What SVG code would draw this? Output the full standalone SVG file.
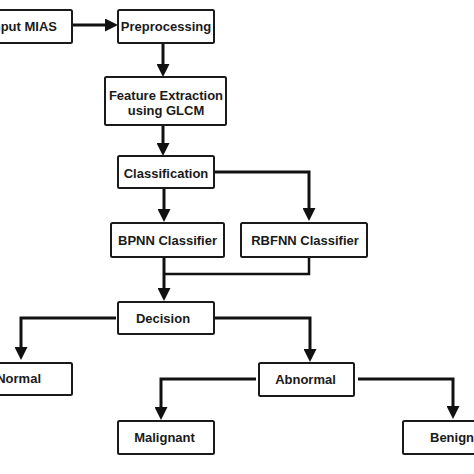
<svg xmlns="http://www.w3.org/2000/svg" width="474" height="474" viewBox="0 0 474 474">
<style>
.box{fill:#fff;stroke:#1a1a1a;stroke-width:2}
.t{font-family:"Liberation Sans",Arial,sans-serif;font-weight:bold;font-size:13px;fill:#1a1a1a}
.c{fill:none;stroke:#111;stroke-width:3}
.c2{fill:none;stroke:#111;stroke-width:2.5}
</style>
<defs>
<marker id="ah" markerUnits="userSpaceOnUse" markerWidth="13" markerHeight="13" refX="4" refY="6.5" orient="auto">
<path d="M0,0 L13,6.5 L0,13 z" fill="#111"/>
</marker>
</defs>
<rect width="474" height="474" fill="#fff"/>
<g id="connectors">
<path class="c" d="M72,25 H109" marker-end="url(#ah)"/>
<path class="c" d="M163,43 V68" marker-end="url(#ah)"/>
<path class="c" d="M163,125 V147" marker-end="url(#ah)"/>
<path class="c" d="M164,188 V213" marker-end="url(#ah)"/>
<path class="c" d="M214,172 H309 V212" marker-end="url(#ah)"/>
<path class="c" d="M164,257 V292" marker-end="url(#ah)"/>
<path class="c2" d="M309,257 V274 H164"/>
<path class="c" d="M116,318 H21 V351" marker-end="url(#ah)"/>
<path class="c" d="M214,318 H310 V353" marker-end="url(#ah)"/>
<path class="c" d="M256,379 H161 V411" marker-end="url(#ah)"/>
<path class="c" d="M358,379 H453 V410" marker-end="url(#ah)"/>
</g>
<g id="input"><rect class="box" x="-4" y="10" width="76" height="33" rx="1.5"/><text class="t" x="57" y="31" text-anchor="end">Input MIAS</text></g>
<g id="preprocessing"><rect class="box" x="118" y="10" width="96" height="33" rx="1.5"/><text class="t" x="166" y="31" text-anchor="middle">Preprocessing</text></g>
<g id="feature"><rect class="box" x="105" y="77" width="121" height="48" rx="1.5"/><text class="t" x="166" y="100" text-anchor="middle">Feature Extraction</text><text class="t" x="166" y="115" text-anchor="middle">using GLCM</text></g>
<g id="classification"><rect class="box" x="118" y="156" width="96" height="32" rx="1.5"/><text class="t" x="166" y="177.5" text-anchor="middle">Classification</text></g>
<g id="bpnn"><rect class="box" x="111" y="223" width="113" height="34" rx="1.5"/><text class="t" x="167.5" y="244.5" text-anchor="middle">BPNN Classifier</text></g>
<g id="rbfnn"><rect class="box" x="241" y="223" width="126" height="34" rx="1.5"/><text class="t" x="305" y="244.5" text-anchor="middle">RBFNN Classifier</text></g>
<g id="decision"><rect class="box" x="118" y="302" width="96" height="32" rx="1.5"/><text class="t" x="163" y="322.5" text-anchor="middle">Decision</text></g>
<g id="normal"><rect class="box" x="-4" y="363" width="76" height="32" rx="1.5"/><text class="t" x="41" y="383" text-anchor="end">Normal</text></g>
<g id="abnormal"><rect class="box" x="259" y="363" width="95" height="33" rx="1.5"/><text class="t" x="305.5" y="384" text-anchor="middle">Abnormal</text></g>
<g id="malignant"><rect class="box" x="118" y="421" width="96" height="33" rx="1.5"/><text class="t" x="164.5" y="442" text-anchor="middle">Malignant</text></g>
<g id="benign"><rect class="box" x="403" y="421" width="80" height="33" rx="1.5"/><text class="t" x="430" y="442">Benign</text></g>
</svg>
